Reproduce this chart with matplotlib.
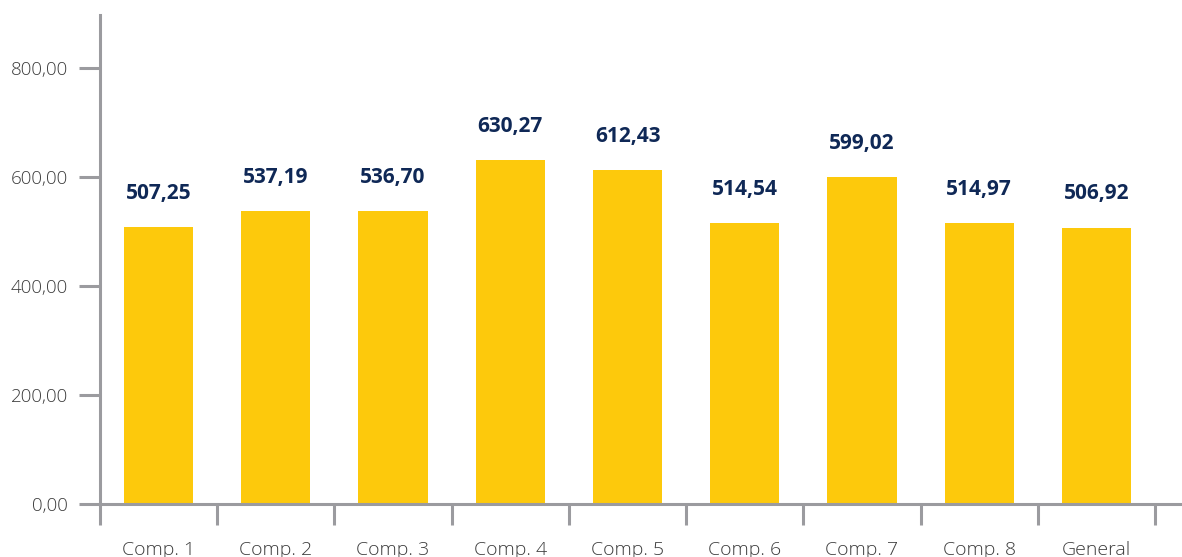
import matplotlib
matplotlib.use("Agg")
import matplotlib.pyplot as plt
import numpy as np

categories = ["Comp. 1", "Comp. 2", "Comp. 3", "Comp. 4", "Comp. 5", "Comp. 6", "Comp. 7", "Comp. 8", "General"]
values = [507.25, 537.19, 536.70, 630.27, 612.43, 514.54, 599.02, 514.97, 506.92]
yticks = [0, 200, 400, 600, 800]

plt.rcParams['font.family'] = ['Open Sans', 'DejaVu Sans']

W, H = 1182, 557
fig = plt.figure(figsize=(W/100, H/100), dpi=100)
left = 100 / W
bottom = 1 - 504 / H
top = 1 - 15 / H
ax = fig.add_axes([left, bottom, 1 - left, top - bottom])

axis_col = "#9b9b9f"
bar_col = "#FDC90C"
lab_col = "#0f2856"
tick_col = "#3c3c3c"

x = np.arange(len(categories))
ax.bar(x, values, width=0.59, color=bar_col, zorder=2)

def fmt(v):
    return f"{v:.2f}".replace(".", ",")

for xi, v in zip(x, values):
    ax.annotate(fmt(v), (xi, v), xytext=(0, 17), textcoords="offset points",
                ha="center", va="bottom", fontsize=15, fontweight="bold", color=lab_col)

n = len(categories)
right_extra = (W - 1155) / ((1155 - 100) / n)
ax.set_xlim(-0.5, n - 0.5 + right_extra)
ax.set_ylim(0, 897)

for s in ["top", "right"]:
    ax.spines[s].set_visible(False)
for s in ["left", "bottom"]:
    ax.spines[s].set_color(axis_col)
    ax.spines[s].set_linewidth(2.2)

ax.set_yticks(yticks)
ax.set_yticklabels([fmt(v) for v in yticks])
ax.tick_params(axis="y", length=15, width=2.2, color=axis_col, labelsize=13.5,
               labelcolor=tick_col, pad=8)

ax.set_xticks(np.arange(-0.5, n, 1.0))
ax.set_xticklabels([])
ax.tick_params(axis="x", which="major", length=15, width=2.2, color=axis_col)
ax.set_xticks(x, minor=True)
ax.set_xticklabels(categories, minor=True)
ax.tick_params(axis="x", which="minor", length=0, pad=26.5, labelsize=14, labelcolor=tick_col)

for lbl in ax.get_xticklabels(minor=True) + ax.get_yticklabels():
    lbl.set_fontweight("light")

fig.savefig("out.png", dpi=100)
